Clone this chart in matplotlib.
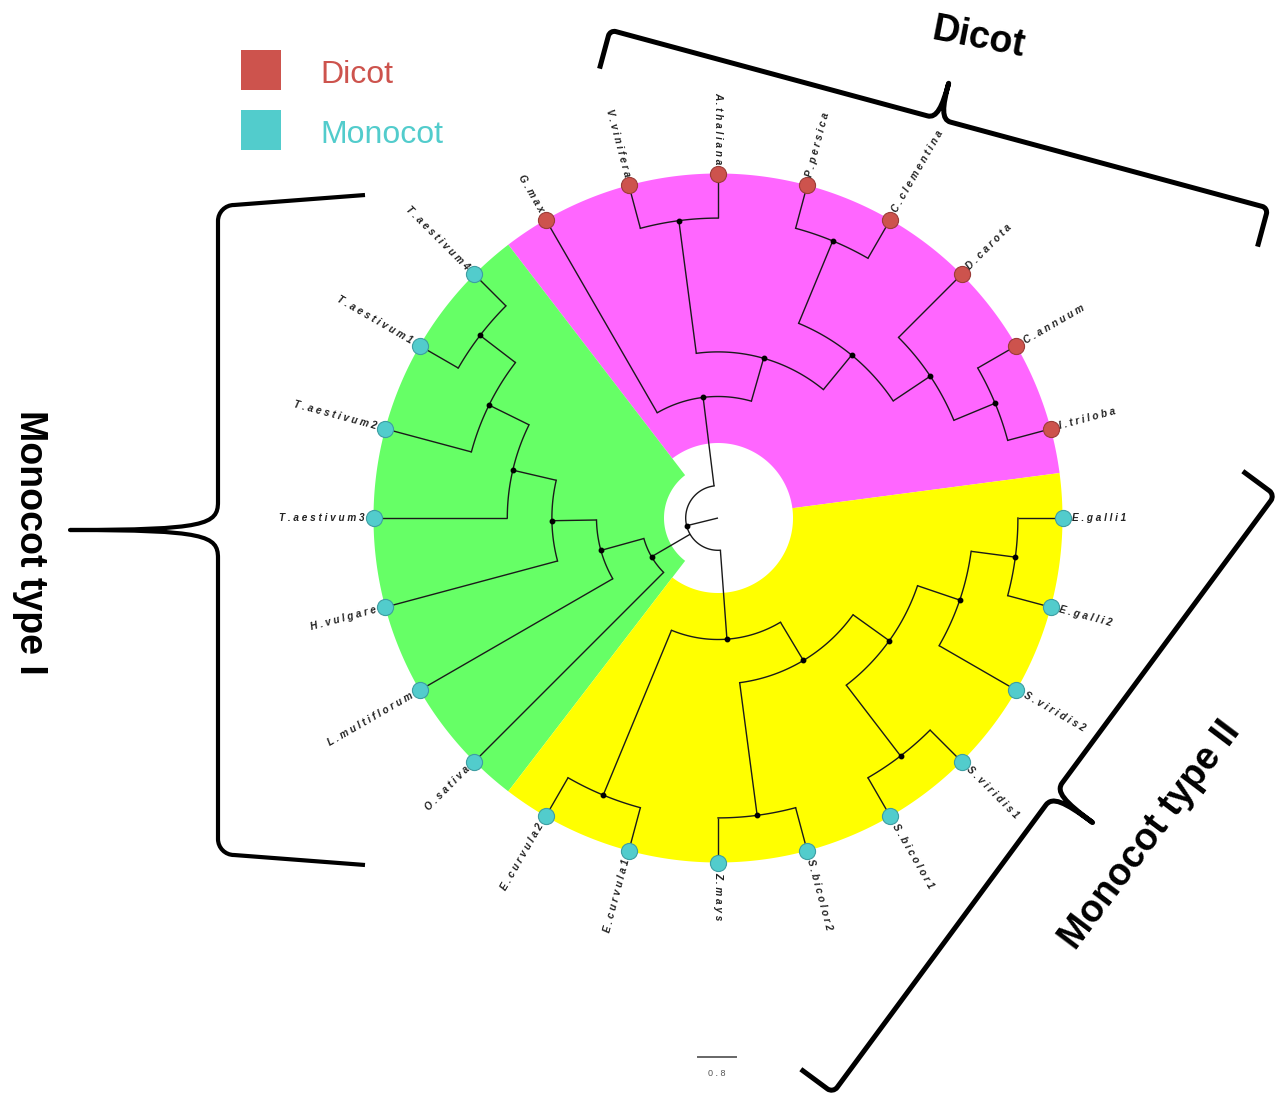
import numpy as np
import matplotlib.pyplot as plt
from matplotlib.path import Path
from matplotlib.patches import PathPatch, Polygon, Rectangle

# leaves counterclockwise, one every 15 degrees starting at 15
LEAVES = ["I.triloba", "C.annuum", "D.carota", "C.clementina", "P.persica",
          "A.thaliana", "V.vinifera", "G.max",
          "T.aestivum4", "T.aestivum1", "T.aestivum2", "T.aestivum3",
          "H.vulgare", "L.multiflorum", "O.sativa",
          "E.curvula2", "E.curvula1", "Z.mays", "S.bicolor2", "S.bicolor1",
          "S.viridis1", "S.viridis2", "E.galli2", "E.galli1"]
GROUPS = ["Dicot"] * 8 + ["Monocot"] * 16

# topology
DICOT = ("G.max", (("V.vinifera", "A.thaliana"),
                   (("P.persica", "C.clementina"),
                    ("D.carota", ("C.annuum", "I.triloba")))))
MONO_I = ("O.sativa", ("L.multiflorum", ("H.vulgare", ("T.aestivum3",
          ("T.aestivum2", ("T.aestivum1", "T.aestivum4"))))))
MONO_II = (("E.curvula2", "E.curvula1"),
           (("Z.mays", "S.bicolor2"),
            (("S.bicolor1", "S.viridis1"),
             ("S.viridis2", ("E.galli2", "E.galli1")))))
TREE = (DICOT, MONO_I, MONO_II)

# layout (pixel units)
W, H = 1277, 1097
CX, CY = 718, 518
R_LEAF = 344.5
STEP = 44.6
LEAF_STEP = 15.0
LEAF_ANGLE = {name: LEAF_STEP * (i + 1) for i, name in enumerate(LEAVES)}

COLORS = {"Dicot": "#CD534D", "Monocot": "#52CCCC"}
EDGES = {"Dicot": "#9B3C38", "Monocot": "#3E9EA2"}
CLADES = [(DICOT, "#FF66FF", 75), (MONO_I, "#66FF66", 54), (MONO_II, "#FFFF00", 75)]
LINE = "#1a1a1a"


def polar(r, theta):
    t = np.radians(theta)
    return CX + r * np.cos(t), CY - r * np.sin(t)


def leaves_of(node):
    if isinstance(node, str):
        return [node]
    return [l for c in node for l in leaves_of(c)]


def height(node):
    if isinstance(node, str):
        return 0
    return 1 + max(height(c) for c in node)


def angle(node):
    if isinstance(node, str):
        return LEAF_ANGLE[node]
    return np.mean([angle(c) for c in node])


def draw_node(ax, node, parent_r):
    a = angle(node)
    r = R_LEAF - height(node) * STEP
    x0, y0 = polar(parent_r, a)
    x1, y1 = polar(r, a)
    ax.plot([x0, x1], [y0, y1], color=LINE, lw=1.0, zorder=3, solid_capstyle="butt")
    if isinstance(node, str):
        return
    kids = [angle(c) for c in node]
    th = np.linspace(min(kids), max(kids), 80)
    xs, ys = polar(r, th)
    ax.plot(xs, ys, color=LINE, lw=1.0, zorder=3)
    ax.plot([x1], [y1], "o", color="black", ms=3.2, zorder=4)
    for c in node:
        draw_node(ax, c, r)


def brace(ax, p1, p2, arm, tip, corner, tipw, skew=0.0, side=1, lw=3.5):
    p1, p2 = np.asarray(p1, float), np.asarray(p2, float)
    L = np.hypot(*(p2 - p1))
    eu = (p2 - p1) / L
    ev = np.array([-eu[1], eu[0]]) * side
    m = L / 2
    uv = [(-skew, -arm), (0, -corner),
          (0, -corner * 0.45), (corner * 0.45, 0), (corner, 0),
          (m - tipw, 0),
          (m - tipw * 0.2, 0), (m, min(tip, 25) * 0.5), (m, tip),
          (m, min(tip, 25) * 0.5), (m + tipw * 0.2, 0), (m + tipw, 0),
          (L - corner, 0),
          (L - corner * 0.45, 0), (L, -corner * 0.45), (L, -corner),
          (L + skew, -arm)]
    codes = [Path.MOVETO, Path.LINETO,
             Path.CURVE4, Path.CURVE4, Path.CURVE4,
             Path.LINETO,
             Path.CURVE4, Path.CURVE4, Path.CURVE4,
             Path.CURVE4, Path.CURVE4, Path.CURVE4,
             Path.LINETO,
             Path.CURVE4, Path.CURVE4, Path.CURVE4,
             Path.LINETO]
    verts = [p1 + u * eu + v * ev for u, v in uv]
    ax.add_patch(PathPatch(Path(verts, codes), fill=False, lw=lw,
                           edgecolor="black", capstyle="butt", joinstyle="round",
                           zorder=5))


fig = plt.figure(figsize=(W / 100, H / 100), dpi=100)
ax = fig.add_axes([0, 0, 1, 1])
ax.set_xlim(0, W)
ax.set_ylim(H, 0)
ax.axis("off")

# coloured clade sectors
for clade, col, r_in in CLADES:
    angs = [LEAF_ANGLE[l] for l in leaves_of(clade)]
    a1, a2 = min(angs) - LEAF_STEP / 2, max(angs) + LEAF_STEP / 2
    th = np.linspace(a1, a2, 200)
    ox, oy = polar(R_LEAF, th)
    ix, iy = polar(r_in, th[::-1])
    pts = np.column_stack([np.r_[ox, ix], np.r_[oy, iy]])
    ax.add_patch(Polygon(pts, closed=True, facecolor=col, edgecolor="none", zorder=1))

# branches
draw_node(ax, TREE, 0.0)

# tips and labels
for name, grp in zip(LEAVES, GROUPS):
    a = LEAF_ANGLE[name]
    x, y = polar(R_LEAF, a)
    ax.scatter([x], [y], s=135, color=COLORS[grp], edgecolor=EDGES[grp],
               linewidth=0.8, zorder=6)
    tx, ty = polar(R_LEAF + 9, a)
    a_n = a % 360
    if 90 <= a_n < 270:
        rot, ha = a_n - 180, "right"
    else:
        rot, ha = (a_n + 90) % 180 - 90, "left"
    ax.text(tx, ty, " ".join(name), rotation=rot, ha=ha, va="center",
            rotation_mode="anchor", fontsize=7.2, fontweight="bold",
            fontstyle="italic", family="Liberation Sans", color="#222222",
            zorder=7)

# scale bar
ax.plot([698, 736], [1057, 1057], color="#666666", lw=1.4)
ax.text(717, 1073, "0 . 8", ha="center", va="center", fontsize=6.5,
        color="#555555", family="Liberation Sans")

# legend
for i, grp in enumerate(["Dicot", "Monocot"]):
    y = 50 + 60 * i
    ax.add_patch(Rectangle((241, y), 40, 40, facecolor=COLORS[grp],
                           edgecolor="none", zorder=6))
    ax.text(320, y + 25, grp, ha="left", va="center", fontsize=23,
            color=COLORS[grp], family="Liberation Sans")

# group braces and titles
brace(ax, (610, 30), (1268, 208), arm=40, tip=37, corner=6, tipw=12, side=-1, lw=3.6)
brace(ax, (218, 205), (218, 855), arm=147, tip=148, corner=16, tipw=28,
      skew=10, side=1, lw=3.0)
brace(ax, (1275, 495), (833, 1093), arm=40, tip=48, corner=7, tipw=14,
      side=-1, lw=3.6)

title_kw = dict(fontsize=27, fontweight="bold", family="Liberation Sans",
                ha="center", va="center", rotation_mode="anchor")
ax.text(978, 38, "Dicot", rotation=-11, **title_kw)
ax.text(30, 542, "Monocot type I", rotation=-90, **title_kw)
ax.text(1150, 835, "Monocot type II", rotation=53, **title_kw)

fig.savefig("out.png", dpi=100)
